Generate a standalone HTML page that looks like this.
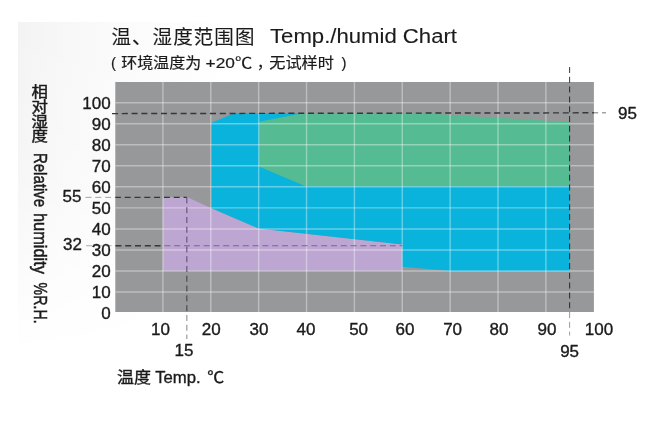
<!DOCTYPE html>
<html lang="zh-CN">
<head>
<meta charset="utf-8">
<title>温、湿度范围图 Temp./humid Chart</title>
<style>
html,body{margin:0;padding:0;background:#fff;}
body{width:656px;height:430px;overflow:hidden;position:relative;font-family:"Liberation Sans","Noto Sans CJK SC",sans-serif;}
svg{position:absolute;left:0;top:0;display:block;filter:blur(.35px);}
svg text{font-family:"Liberation Sans","Noto Sans CJK SC",sans-serif;fill:#1b1b1b;stroke:#1b1b1b;stroke-width:.36;}
.tick{font-size:17px;}
.title{font-size:20px;stroke-width:.12;}
.sub{font-size:15px;stroke-width:.2;}
.dash{stroke-dasharray:6 3.8;fill:none;}
.grid{stroke:#fff;stroke-opacity:.36;stroke-width:1.45;}
</style>
</head>
<body>
<svg width="656" height="430" viewBox="0 0 656 430">
<defs>
<linearGradient id="bgh" x1="0" y1="0" x2="1" y2="0"><stop offset="0" stop-color="#f3f3f3"/><stop offset="0.2" stop-color="#f7f7f7"/><stop offset="0.5" stop-color="#fbfbfb"/><stop offset="1" stop-color="#ffffff"/></linearGradient>
<linearGradient id="bgv" x1="0" y1="0" x2="0" y2="1"><stop offset="0" stop-color="#fff" stop-opacity="0"/><stop offset="0.45" stop-color="#fff" stop-opacity="0.25"/><stop offset="1" stop-color="#fff" stop-opacity="1"/></linearGradient>
</defs>
<rect x="0" y="0" width="656" height="430" fill="#fff"/>
<rect x="18" y="22" width="220" height="330" fill="url(#bgh)"/>
<rect x="18" y="22" width="220" height="330" fill="url(#bgv)"/>

<rect x="115.3" y="82" width="478.6" height="230" fill="#97989a"/>
<polygon fill="#bda7d2" points="162.92,270.77 162.92,196.94 186.85,196.94 210.79,207.88 258.66,228.49 402.27,244.48 402.27,270.77"/>
<polygon fill="#0ab3dc" points="211.03,207.88 211.03,122.89 233.77,113.22 306.53,113.22 569.58,123.74 569.58,270.98 450.14,270.98 402.27,266.77 402.27,244.48 258.66,228.49"/>
<polygon fill="#55bb92" points="258.9,166.44 258.9,121.63 302.7,113.22 423.81,113.22 569.58,122.26 569.58,186.21 305.57,186.21"/>
<line class="grid" x1="162.92" y1="82" x2="162.92" y2="312"/>
<line class="grid" x1="210.79" y1="82" x2="210.79" y2="312"/>
<line class="grid" x1="258.66" y1="82" x2="258.66" y2="312"/>
<line class="grid" x1="306.53" y1="82" x2="306.53" y2="312"/>
<line class="grid" x1="354.4" y1="82" x2="354.4" y2="312"/>
<line class="grid" x1="402.27" y1="82" x2="402.27" y2="312"/>
<line class="grid" x1="450.14" y1="82" x2="450.14" y2="312"/>
<line class="grid" x1="498.01" y1="82" x2="498.01" y2="312"/>
<line class="grid" x1="545.88" y1="82" x2="545.88" y2="312"/>
<line class="grid" x1="115.3" y1="292.01" x2="593.9" y2="292.01"/>
<line class="grid" x1="115.3" y1="270.98" x2="593.9" y2="270.98"/>
<line class="grid" x1="115.3" y1="249.95" x2="593.9" y2="249.95"/>
<line class="grid" x1="115.3" y1="228.91" x2="593.9" y2="228.91"/>
<line class="grid" x1="115.3" y1="207.88" x2="593.9" y2="207.88"/>
<line class="grid" x1="115.3" y1="186.84" x2="593.9" y2="186.84"/>
<line class="grid" x1="115.3" y1="165.81" x2="593.9" y2="165.81"/>
<line class="grid" x1="115.3" y1="144.77" x2="593.9" y2="144.77"/>
<line class="grid" x1="115.3" y1="123.74" x2="593.9" y2="123.74"/>
<line class="grid" x1="115.3" y1="102.7" x2="593.9" y2="102.7"/>
<line class="dash" x1="112" y1="113.62" x2="593.9" y2="112.82" stroke="#36363b" stroke-width="1.45" stroke-dashoffset="0"/>
<line class="dash" x1="593.9" y1="112.82" x2="606" y2="112.82" stroke="#77777a" stroke-width="1.0" stroke-dashoffset="1.7"/>
<line class="dash" x1="569.61" y1="67" x2="569.61" y2="82" stroke="#3a3a3e" stroke-width="1.0" stroke-dashoffset="0"/>
<line class="dash" x1="569.61" y1="82" x2="569.61" y2="312" stroke="#2c2c31" stroke-width="1.05" stroke-dashoffset="5.2"/>
<line class="dash" x1="569.61" y1="312" x2="569.61" y2="335.5" stroke="#8e8e90" stroke-width="0.9" stroke-dashoffset="9.8"/>
<line class="dash" x1="85.5" y1="197.36" x2="115.3" y2="197.36" stroke="#9a9a9c" stroke-width="0.9" stroke-dashoffset="0"/>
<line class="dash" x1="115.3" y1="197.36" x2="186.85" y2="197.36" stroke="#36363b" stroke-width="1.45" stroke-dashoffset="0.4"/>
<line class="dash" x1="186.85" y1="197.36" x2="186.85" y2="270.98" stroke="#54476f" stroke-width="1.0" stroke-dashoffset="0"/>
<line class="dash" x1="186.85" y1="270.98" x2="186.85" y2="312" stroke="#3d394a" stroke-width="1.0" stroke-dashoffset="5.02"/>
<line class="dash" x1="186.85" y1="312" x2="186.85" y2="339" stroke="#808083" stroke-width="0.95" stroke-dashoffset="6.84"/>
<line class="dash" x1="86" y1="245.74" x2="115.3" y2="245.74" stroke="#a4a4a6" stroke-width="0.9" stroke-dashoffset="0"/>
<line class="dash" x1="115.3" y1="245.74" x2="162.92" y2="245.74" stroke="#36363b" stroke-width="1.45" stroke-dashoffset="9.7"/>
<line class="dash" x1="162.92" y1="245.74" x2="402.27" y2="245.74" stroke="#77688f" stroke-width="1.0" stroke-dashoffset="8.32"/>
<text class="title" x="111.4" y="44.3" textLength="143" lengthAdjust="spacing" style="font-size:19.5px">温、湿度范围图</text>
<text class="title" x="270" y="42.6" textLength="187" lengthAdjust="spacingAndGlyphs">Temp./humid Chart</text>
<text class="sub" x="110.9" y="68.4"><tspan>(</tspan> <tspan x="121.2" textLength="80"  lengthAdjust="spacingAndGlyphs">环境温度为</tspan><tspan x="205.6" textLength="46.6" lengthAdjust="spacingAndGlyphs">+20℃</tspan><tspan x="257">，</tspan><tspan x="269.2" textLength="64.8" lengthAdjust="spacingAndGlyphs">无试样时</tspan> <tspan x="341.4">)</tspan></text>
<text class="tick" text-anchor="end" x="110.7" y="318.9">0</text>
<text class="tick" text-anchor="end" x="110.7" y="297.9">10</text>
<text class="tick" text-anchor="end" x="110.7" y="276.9">20</text>
<text class="tick" text-anchor="end" x="110.7" y="255.8">30</text>
<text class="tick" text-anchor="end" x="110.7" y="234.8">40</text>
<text class="tick" text-anchor="end" x="110.7" y="213.8">50</text>
<text class="tick" text-anchor="end" x="110.7" y="192.7">60</text>
<text class="tick" text-anchor="end" x="110.7" y="171.7">70</text>
<text class="tick" text-anchor="end" x="110.7" y="150.7">80</text>
<text class="tick" text-anchor="end" x="110.7" y="129.6">90</text>
<text class="tick" text-anchor="end" x="110.7" y="108.6">100</text>
<text class="tick" text-anchor="middle" x="160.5" y="335">10</text>
<text class="tick" text-anchor="middle" x="211.3" y="335">20</text>
<text class="tick" text-anchor="middle" x="258.9" y="335">30</text>
<text class="tick" text-anchor="middle" x="305.9" y="335">40</text>
<text class="tick" text-anchor="middle" x="358.6" y="335">50</text>
<text class="tick" text-anchor="middle" x="405" y="335">60</text>
<text class="tick" text-anchor="middle" x="452.6" y="335">70</text>
<text class="tick" text-anchor="middle" x="499" y="335">80</text>
<text class="tick" text-anchor="middle" x="547" y="335">90</text>
<text class="tick" text-anchor="middle" x="599" y="335">100</text>
<text class="tick" text-anchor="end" x="81.4" y="202.2">55</text>
<text class="tick" text-anchor="end" x="82" y="250.4">32</text>
<text class="tick" text-anchor="start" x="618" y="119.3">95</text>
<text class="tick" text-anchor="middle" x="184" y="355.8">15</text>
<text class="tick" text-anchor="middle" x="569.6" y="357.4">95</text>
<text x="117" y="383.4" style="font-size:16.3px"><tspan textLength="34" lengthAdjust="spacingAndGlyphs">温度</tspan> <tspan x="155.2" textLength="45.5" lengthAdjust="spacingAndGlyphs">Temp.</tspan> <tspan x="207.3" textLength="17" lengthAdjust="spacingAndGlyphs">℃</tspan></text>
<text transform="translate(39.8,0) scale(1,0.89)" text-anchor="middle" style="font-size:16.4px;stroke-width:.5" x="0 0 0 0" y="109.0 125.6 142.2 158.9">相对湿度</text>
<text transform="translate(34.2,153) rotate(90)" style="font-size:17.6px;stroke-width:.5" textLength="54" lengthAdjust="spacingAndGlyphs">Relative</text>
<text transform="translate(34.2,213) rotate(90)" style="font-size:17.6px;stroke-width:.5" textLength="61" lengthAdjust="spacingAndGlyphs">humidity</text>
<text transform="translate(34.2,282.6) rotate(90)" style="font-size:17.6px;stroke-width:.5" textLength="41" lengthAdjust="spacingAndGlyphs">%R.H.</text>
</svg>
</body></html>
